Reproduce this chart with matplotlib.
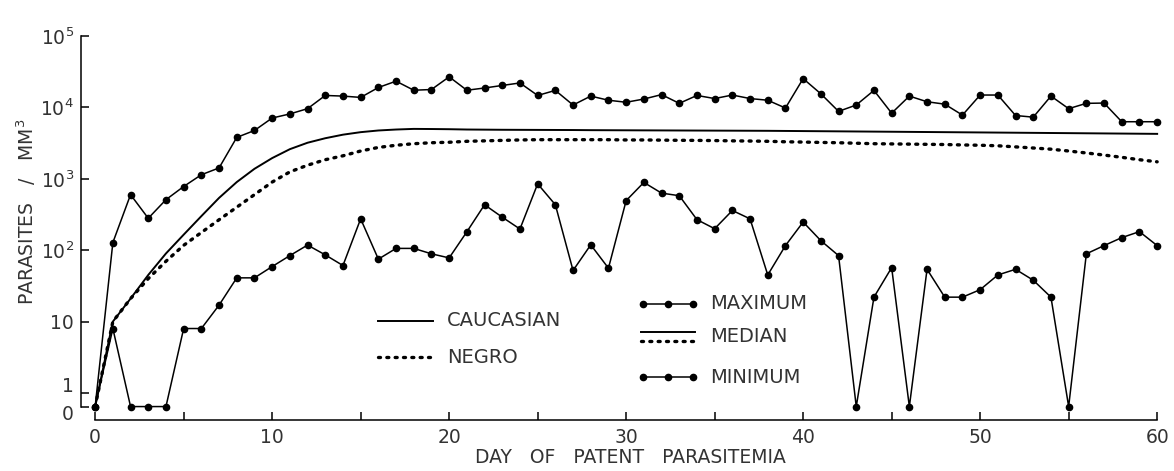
import numpy as np
import matplotlib
matplotlib.use("Agg")
import matplotlib.pyplot as plt
from matplotlib.ticker import FixedLocator, FixedFormatter, MultipleLocator
from matplotlib.transforms import ScaledTranslation

# Dias de parasitemia patente
dias = np.arange(0, 61)

# Valores (parasitas / mm3)
maximo = [0, 128, 600, 280, 510, 780, 1140, 1420, 3800, 4750,
          7100, 8100, 9600, 14700, 14400, 13800, 19000, 23300, 17400, 17800,
          26800, 17400, 18700, 20300, 22000, 14700, 17300, 10800, 14400, 12600,
          11800, 13100, 15100, 11400, 14700, 13300, 14900, 13300, 12600, 9800,
          25300, 15500, 8800, 10800, 17300, 8300, 14400, 12000, 11100, 7800,
          14900, 14900, 7700, 7300, 14400, 9600, 11400, 11500, 6300, 6300,
          6300]

minimo = [0, 8, 0, 0, 0, 8, 8, 17, 41, 41,
          59, 84, 118, 86, 61, 275, 75, 106, 106, 89,
          78, 181, 433, 290, 198, 850, 433, 52, 119, 56,
          495, 890, 630, 580, 268, 200, 360, 275, 45, 116,
          248, 136, 84, 0, 22, 57, 0, 54, 22, 22,
          28, 45, 54, 38, 22, 0, 89, 116, 150, 182,
          116]

caucasiano = [0, 10, 21, 45, 90, 165, 300, 540, 900, 1380,
              1950, 2600, 3200, 3700, 4150, 4500, 4750, 4900, 5000, 4980,
              4950, 4900, 4880, 4860, 4850, 4840, 4830, 4820, 4800, 4790,
              4780, 4770, 4760, 4750, 4740, 4730, 4720, 4710, 4700, 4680,
              4660, 4640, 4620, 4600, 4580, 4560, 4540, 4520, 4500, 4480,
              4460, 4440, 4420, 4400, 4380, 4360, 4340, 4320, 4300, 4280,
              4260]

negro = [0, 10, 21, 40, 70, 117, 177, 267, 400, 600,
         900, 1250, 1550, 1850, 2100, 2450, 2750, 2950, 3100, 3200,
         3250, 3350, 3400, 3450, 3500, 3530, 3530, 3530, 3530, 3530,
         3500, 3500, 3480, 3460, 3450, 3430, 3400, 3380, 3350, 3300,
         3270, 3230, 3200, 3150, 3100, 3080, 3060, 3040, 3020, 2980,
         2950, 2900, 2800, 2700, 2600, 2450, 2300, 2150, 2000, 1850,
         1730]

ytick_vals = [0, 1, 10, 100, 1000, 10000, 100000]
ytick_txt = ["0", "1", "10", r"$\mathregular{10^2}$", r"$\mathregular{10^3}$",
             r"$\mathregular{10^4}$", r"$\mathregular{10^5}$"]

# Escala log com o zero colocado um pouco abaixo de 1
Z = 0.19


def fwd(v):
    v = np.asarray(v, dtype=float)
    return np.where(v >= 1, np.log10(np.maximum(v, 1)), Z * (v - 1))


def inv(y):
    y = np.asarray(y, dtype=float)
    return np.where(y >= 0, 10 ** np.clip(y, 0, 12), 1 + y / Z)


cor_txt = "#333333"
fs_leg = 14
fig = plt.figure(figsize=(11.74, 4.71), dpi=100)
ax = fig.add_axes([81 / 1174, 51 / 471, 1085 / 1174, 384 / 471])
ax.set_yscale("function", functions=(fwd, inv))

ax.plot(dias, maximo, color="black", lw=1.1, marker="o", ms=4.5)
ax.plot(dias, minimo, color="black", lw=1.1, marker="o", ms=4.5)
ax.plot(dias, caucasiano, color="black", lw=1.4)
ax.plot(dias, negro, color="black", lw=2.4, linestyle=(0, (0.6, 1.9)),
        dash_capstyle="round")

ax.set_xlim(-0.8, 60.5)
ax.set_ylim(-0.99, 100000)

for s in ["top", "right"]:
    ax.spines[s].set_visible(False)
ax.spines["bottom"].set_bounds(0, 60)
ax.spines["left"].set_bounds(0, 100000)
ax.spines["bottom"].set_linewidth(1.1)
ax.spines["left"].set_linewidth(1.1)

ax.xaxis.set_major_locator(MultipleLocator(10))
ax.xaxis.set_minor_locator(MultipleLocator(5))
ax.yaxis.set_major_locator(FixedLocator(ytick_vals))
ax.yaxis.set_major_formatter(FixedFormatter(ytick_txt))
ax.yaxis.set_minor_locator(FixedLocator([]))
ax.tick_params(axis="both", which="both", direction="in", length=6, width=1.1,
               labelsize=13.5, labelcolor=cor_txt)
ax.tick_params(axis="x", pad=6)
ax.tick_params(axis="y", pad=5)

# afastar os rótulos "0" e "1" um do outro
ticks_y = ax.yaxis.get_major_ticks()
for tk, dy in [(ticks_y[0], -4), (ticks_y[1], 6)]:
    lab = tk.label1
    lab.set_transform(lab.get_transform() + ScaledTranslation(0, dy / 72, fig.dpi_scale_trans))

ax.set_xlabel("DAY   OF   PATENT   PARASITEMIA", fontsize=13.5, color=cor_txt)
ax.xaxis.set_label_coords(0.506, -0.073)
ax.set_ylabel(r"PARASITES   /   MM$^3$", fontsize=13.5, color=cor_txt)
ax.yaxis.set_label_coords(-0.040, 0.542)

# Legenda desenhada à mão
tr = ax.transAxes
ax.plot([0.274, 0.324], [0.258, 0.258], color="black", lw=1.4, transform=tr)
ax.text(0.337, 0.258, "CAUCASIAN", transform=tr, va="center", fontsize=fs_leg, color=cor_txt)
ax.plot([0.274, 0.324], [0.164, 0.164], color="black", lw=2.4,
        linestyle=(0, (0.6, 1.9)), dash_capstyle="round", transform=tr)
ax.text(0.337, 0.164, "NEGRO", transform=tr, va="center", fontsize=fs_leg, color=cor_txt)

ax.plot([0.518, 0.541, 0.564], [0.303, 0.303, 0.303], color="black", lw=1.1,
        marker="o", ms=4.5, transform=tr)
ax.text(0.580, 0.303, "MAXIMUM", transform=tr, va="center", fontsize=fs_leg, color=cor_txt)
ax.plot([0.516, 0.566], [0.229, 0.229], color="black", lw=1.4, transform=tr)
ax.plot([0.516, 0.566], [0.205, 0.205], color="black", lw=2.4,
        linestyle=(0, (0.6, 1.9)), dash_capstyle="round", transform=tr)
ax.text(0.580, 0.217, "MEDIAN", transform=tr, va="center", fontsize=fs_leg, color=cor_txt)
ax.plot([0.518, 0.541, 0.564], [0.111, 0.111, 0.111], color="black", lw=1.1,
        marker="o", ms=4.5, transform=tr)
ax.text(0.580, 0.111, "MINIMUM", transform=tr, va="center", fontsize=fs_leg, color=cor_txt)

fig.savefig("out.png", dpi=100)
